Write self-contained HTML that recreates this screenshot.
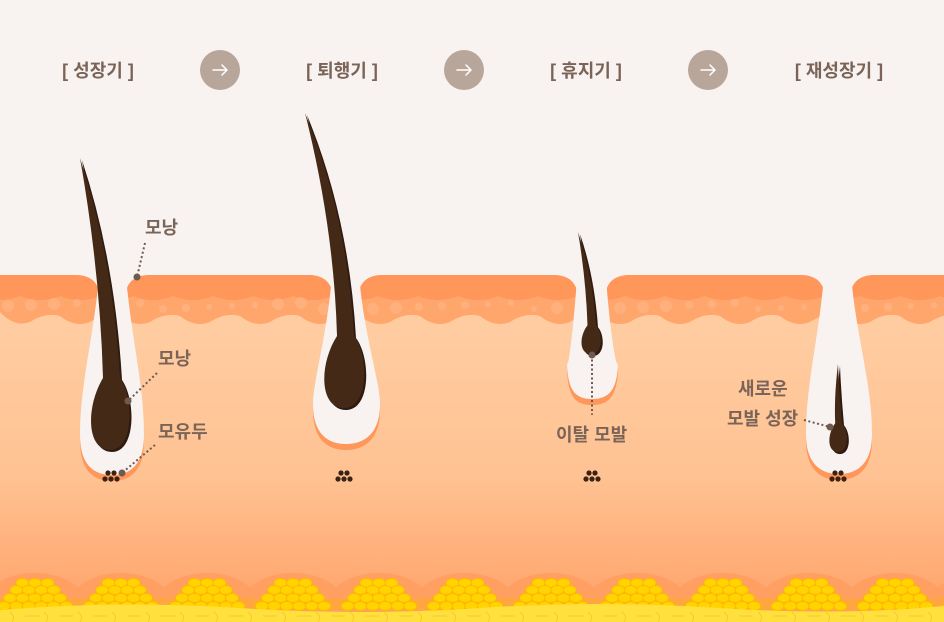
<!DOCTYPE html>
<html><head><meta charset="utf-8"><style>
html,body{margin:0;padding:0;background:#f8f3f1}
svg{display:block}
text{font-family:"Liberation Sans","Noto Sans CJK KR","NanumGothic",sans-serif;font-weight:bold;fill:#7a6458}
</style></head><body>
<svg id="s" width="944" height="622" viewBox="0 0 944 622" xmlns="http://www.w3.org/2000/svg">
<defs>
<linearGradient id="derm" x1="0" y1="0" x2="0" y2="1">
<stop offset="0" stop-color="#ffceA4"/><stop offset="0.55" stop-color="#ffc292"/><stop offset="1" stop-color="#ffa066"/>
</linearGradient>
</defs>
<rect width="944" height="622" fill="#f8f3f1"/>
<rect x="0" y="300" width="944" height="322" fill="url(#derm)"/>
<g id="fat"></g>
<g id="skin"></g>
<g id="foll"></g>
<g id="hair"></g>
<g id="labels">
<text x="98" y="77" font-size="18" text-anchor="middle">[ 성장기 ]</text>
<text x="342" y="77" font-size="18" text-anchor="middle">[ 퇴행기 ]</text>
<text x="586" y="77" font-size="18" text-anchor="middle">[ 휴지기 ]</text>
<text x="839" y="77" font-size="18" text-anchor="middle">[ 재성장기 ]</text>
<g fill="#b9a69b"><circle cx="220" cy="70" r="20"/><circle cx="464" cy="70" r="20"/><circle cx="708" cy="70" r="20"/></g>
<g stroke="#fff" stroke-width="1.5" fill="none" stroke-linecap="round">
<path d="M213 70h14M222 65l5 5-5 5"/><path d="M457 70h14M466 65l5 5-5 5"/><path d="M701 70h14M710 65l5 5-5 5"/>
</g>
<text x="145" y="234" font-size="18">모낭</text>
<text x="158" y="365" font-size="18">모낭</text>
<text x="158" y="438" font-size="18">모유두</text>
<text x="556" y="441" font-size="18">이탈 모발</text>
<text x="738" y="395" font-size="18">새로운</text>
<text x="727" y="425" font-size="18">모발 성장</text>
<g stroke="#6e5a50" stroke-width="2" stroke-dasharray="2 2.5" fill="none">
<path d="M145 243L137 277"/><path d="M157 373L128 401"/><path d="M155 445L122 473"/><path d="M592 355L592 415"/><path d="M804 420L830 427"/>
</g>
<g fill="#6e5a50"><circle cx="137" cy="277" r="3.5"/><circle cx="128" cy="401" r="3.5"/><circle cx="122" cy="473" r="3.5"/><circle cx="592" cy="355" r="3.5"/><circle cx="830" cy="427" r="3.5"/></g>
</g>
</svg>
<script>
var NS="http://www.w3.org/2000/svg";
function el(p,t,a){var e=document.createElementNS(NS,t);for(var k in a)e.setAttribute(k,a[k]);document.getElementById(p).appendChild(e);return e;}
for(var i=0;i<12;i++){var cx=35+i*86;
 el("fat","ellipse",{cx:cx,cy:606,rx:52,ry:33,fill:"#ff9f62"});}
el("fat","rect",{x:0,y:598,width:944,height:12,fill:"#ffa640"});
for(var i=0;i<12;i++){var cx=35+i*86;
 var rows=[[583,3,12.5],[590,4,12.5],[598,5,12.5],[606,6,12.5]];
 rows.forEach(function(r){for(var j=0;j<r[1];j++){var x=cx+(j-(r[1]-1)/2)*r[2];
  el("fat","ellipse",{cx:x,cy:r[0],rx:6.5,ry:4.5,fill:"#ffd400",stroke:"#ffb800","stroke-width":1});}});}
el("fat","path",{d:"M0 610 Q120 600 240 608 T480 608 T720 608 T944 606 V622 H0Z",fill:"#ffe03c"});
for(var x=10;x<944;x+=34){el("fat","path",{d:"M"+x+" 612 q6 5 2 10 M"+(x+15)+" 616 h14",stroke:"#f7c930","stroke-width":1,fill:"none"});}
var segs=[[-30,100],[125,333],[358,578],[605,825],[850,980]];
segs.forEach(function(s){var a=s[0],b=s[1];
 var d="M"+a+" 330 V300 Q"+a+" 275 "+(a+25)+" 275 H"+(b-25)+" Q"+b+" 275 "+b+" 300 V330Z";
 el("skin","path",{d:d,fill:"#ffa66c"});
 var w="M"+a+" 275 H"+b+" V296 ";
 for(var x=b;x>a;x-=40){w+="Q"+(x-20)+" 304 "+(x-40)+" 296 ";}
 w+="V275Z";
 var cp=document.createElementNS(NS,"clipPath");cp.id="c"+a;var pp=document.createElementNS(NS,"path");pp.setAttribute("d",d);cp.appendChild(pp);document.querySelector("defs").appendChild(cp);
 el("skin","path",{d:w,fill:"#ff965a","clip-path":"url(#c"+a+")"});
 for(var x=a+15;x<b-5;x+=23){var r=(x*7)%9<3?6:((x*7)%9<6?3:4);
  el("skin","circle",{cx:x,cy:306+((x*3)%7)-3,r:r,fill:"#ffb585",opacity:0.7,"clip-path":"url(#c"+a+")"});}
});
var wb="M0 312 ";
for(var x=0;x<944;x+=60){wb+="Q"+(x+15)+" 328 "+(x+30)+" 322 Q"+(x+45)+" 312 "+(x+60)+" 316 ";}
wb+="V340 H0Z";
el("skin","path",{d:wb,fill:"#ffcca2"});
function foll(l,r,bl,br,yb,cx){
 var d="M"+l+" 262 H"+r+" C"+(r+4)+" 330 "+br+" 380 "+br+" "+(yb-40)+" C"+br+" "+(yb-10)+" "+(cx+18)+" "+yb+" "+cx+" "+yb+" C"+(cx-18)+" "+yb+" "+bl+" "+(yb-10)+" "+bl+" "+(yb-40)+" C"+bl+" 380 "+(l-4)+" 330 "+l+" 262Z";
 el("foll","path",{d:d,fill:"#ff965a",transform:"translate(0,6)"});
 el("foll","path",{d:d,fill:"#f8f3f1"});
}
foll(100,125,80,144,475,112);
foll(333,358,313,380,444,346);
foll(578,605,567,618,399,592);
foll(825,850,806,872,474,839);
function hair(tx,ty,cx,cy,rx,ry,w){
 var d="M"+tx+" "+ty+" Q"+(cx+w*0.3)+" "+(ty+(cy-ty)*0.4)+" "+(cx+w)+" "+(cy-ry*0.8)+" C"+(cx+rx)+" "+(cy-ry*0.3)+" "+(cx+rx)+" "+(cy+ry)+" "+cx+" "+(cy+ry)+" C"+(cx-rx)+" "+(cy+ry)+" "+(cx-rx)+" "+(cy-ry*0.1)+" "+(cx-w*0.7)+" "+(cy-ry*0.8)+" Q"+(cx-w)+" "+(ty+(cy-ty)*0.45)+" "+tx+" "+ty+"Z";
 el("hair","path",{d:d,fill:"#2e1a10",transform:"translate(2,2)"});
 el("hair","path",{d:d,fill:"#442a16"});
}
hair(80,158,110,410,24,40,10);
hair(305,113,344,368,25,40,10);
hair(578,232,591,338,12,16,5);
hair(838,364,838,436,11,16,4);
[[111,476],[344,476],[592,476],[838,476]].forEach(function(p){
 [[-6,3],[0,3],[6,3],[-3,-3],[3,-3]].forEach(function(o){el("hair","circle",{cx:p[0]+o[0],cy:p[1]+o[1],r:2.6,fill:"#3a2214"});});
});
</script>
</body></html>
